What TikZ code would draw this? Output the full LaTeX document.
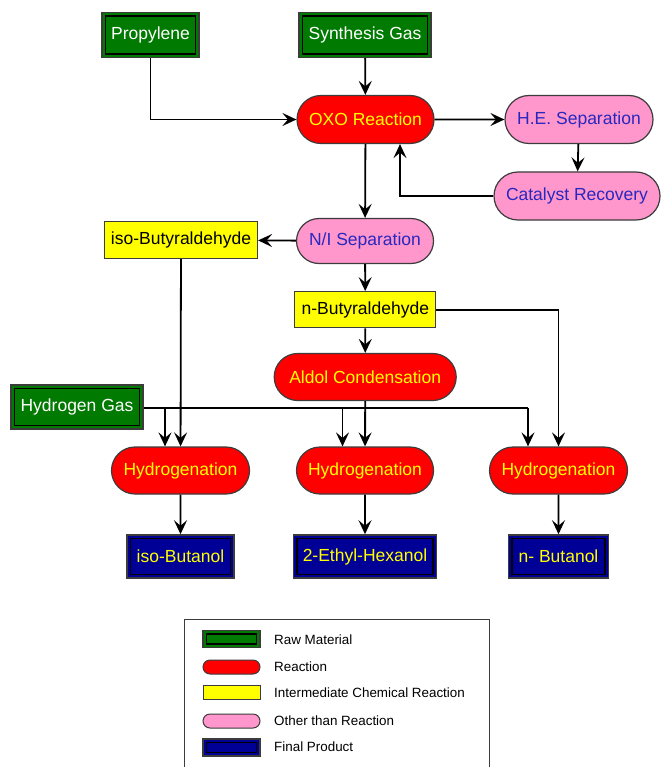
\documentclass[tikz,border=0pt]{standalone}
\usepackage{fontspec}
\setmainfont{Liberation Sans}
\usetikzlibrary{shapes.misc,arrows.meta}

\definecolor{rawgreen}{RGB}{0,122,0}
\definecolor{prodnavy}{RGB}{0,0,150}
\definecolor{rxred}{RGB}{255,0,0}
\definecolor{txtyellow}{RGB}{255,255,0}
\definecolor{sepink}{RGB}{255,150,204}
\definecolor{sepblue}{RGB}{40,40,190}
\definecolor{midyellow}{RGB}{255,255,0}
\definecolor{edgegray}{RGB}{60,60,60}

\tikzset{
  boxfont/.style={font=\fontsize{17.5}{20}\selectfont},
  keyfont/.style={font=\fontsize{13.4}{16}\selectfont},
  % rectangle with an inner black frame
  framed/.style={rectangle, draw=edgegray, line width=1.5pt, inner sep=0pt,
    path picture={\draw[black,line width=1.4pt]
      ([shift={(3.6pt,-3.6pt)}]path picture bounding box.north west) rectangle
      ([shift={(-3.6pt,3.6pt)}]path picture bounding box.south east);}},
  rawbox/.style={framed, fill=rawgreen, text=white, boxfont},
  prodbox/.style={framed, fill=prodnavy, text=txtyellow, boxfont},
  rxpill/.style={rounded rectangle, draw=edgegray, line width=1.2pt, fill=rxred,
    text=txtyellow, inner sep=0pt, boxfont},
  seppill/.style={rounded rectangle, draw=edgegray, line width=1.2pt, fill=sepink,
    text=sepblue, inner sep=0pt, boxfont},
  midbox/.style={rectangle, draw=edgegray, line width=1.2pt, fill=midyellow,
    text=black, inner sep=0pt, boxfont},
  arr/.style={draw=black, line width=1.8pt,
    -{Stealth[length=14pt,width=13pt,inset=5.5pt]}},
  flow/.style={draw=black, line width=1.8pt},
  keylabel/.style={anchor=west, text=black, inner sep=0pt, keyfont},
}

\begin{document}
\begin{tikzpicture}[x=1pt,y=-1pt]
\useasboundingbox (0,0) rectangle (661,767);
\fill[white] (0,0) rectangle (661,767);

% process blocks
\node[rawbox, minimum width=97pt, minimum height=45pt] (prop) at (150.5,35) {Propylene};
\node[rawbox, minimum width=132pt, minimum height=45pt] (syn) at (365,35) {Synthesis Gas};
\node[rxpill, minimum width=137pt, minimum height=48pt] (oxo) at (365.5,119.5) {OXO Reaction};
\node[seppill, minimum width=148pt, minimum height=48pt] (he) at (579,119.5) {H.E. Separation};
\node[seppill, minimum width=166pt, minimum height=48pt] (cat) at (577,196) {Catalyst Recovery};
\node[seppill, minimum width=137pt, minimum height=45pt] (ni) at (365,241) {N/I Separation};
\node[midbox, minimum width=153pt, minimum height=37pt] (iso) at (181,240) {iso-Butyraldehyde};
\node[midbox, minimum width=141pt, minimum height=36pt] (nb) at (365.3,309.7) {n-Butyraldehyde};
\node[rxpill, minimum width=182pt, minimum height=47pt] (aldol) at (365.2,377) {Aldol Condensation};
\node[rawbox, minimum width=132pt, minimum height=44pt] (hg) at (77,407) {Hydrogen Gas};
\node[rxpill, minimum width=138pt, minimum height=47pt] (h1) at (180.5,470.5) {Hydrogenation};
\node[rxpill, minimum width=137pt, minimum height=47pt] (h2) at (365,470.5) {Hydrogenation};
\node[rxpill, minimum width=138pt, minimum height=47pt] (h3) at (558.5,470.5) {Hydrogenation};
\node[prodbox, minimum width=107pt, minimum height=43pt] (ib) at (180.5,556.5) {iso-Butanol};
\node[prodbox, minimum width=143pt, minimum height=43pt] (eh) at (365,556.5) {2-Ethyl-Hexanol};
\node[prodbox, minimum width=100pt, minimum height=43pt] (nbut) at (558.5,556.5) {n- Butanol};

% connectors
\draw[arr] (prop.south) |- (oxo.west);
\draw[arr] (syn) -- (oxo);
\draw[arr] (oxo) -- (he);
\draw[arr] (he) -- (cat);
\draw[arr] (cat.west) -| ([xshift=34.5pt]oxo.south);
\draw[arr] (oxo) -- (ni);
\draw[arr] (ni) -- (iso);
\draw[arr] (ni) -- (nb);
\draw[arr] (nb) -- (aldol);
\draw[arr] (nb.east) -| (h3.north);
\draw[arr] (iso) -- (h1);
\draw[arr] (aldol) -- (h2);
\draw[arr] (h1) -- (ib);
\draw[arr] (h2) -- (eh);
\draw[arr] (h3) -- (nbut);

% hydrogen supply header and its three branches
\coordinate (tap1) at (165,408);
\coordinate (tap2) at (342.5,408);
\coordinate (tap3) at (528,408);
\draw[flow] (hg.east |- tap1) -- (tap3);
\draw[arr] (tap1) -- (tap1 |- h1.north);
\draw[arr] (tap2) -- (tap2 |- h2.north);
\draw[arr] (tap3) -- (tap3 |- h3.north);

% legend
\draw[edgegray, line width=1pt] (184,619) rectangle (489,780);
\node[framed, fill=rawgreen, minimum width=57pt, minimum height=17pt] (k1) at (231.5,639) {};
\node[rounded rectangle, draw=edgegray, line width=1pt, fill=rxred, minimum width=57pt, minimum height=14pt, inner sep=0pt] (k2) at (231.5,667) {};
\node[rectangle, draw=edgegray, line width=1pt, fill=midyellow, minimum width=57pt, minimum height=14pt, inner sep=0pt] (k3) at (231.5,692) {};
\node[rounded rectangle, draw=edgegray, line width=1pt, fill=sepink, minimum width=57pt, minimum height=14pt, inner sep=0pt] (k4) at (231.5,721) {};
\node[framed, fill=prodnavy, minimum width=57pt, minimum height=17pt] (k5) at (231.5,747.5) {};
\node[keylabel] (l1) at (274,640) {Raw Material};
\node[keylabel] (l2) at (274,667) {Reaction};
\node[keylabel] (l3) at (274,693) {Intermediate Chemical Reaction};
\node[keylabel] (l4) at (274,720.5) {Other than Reaction};
\node[keylabel] (l5) at (274,747) {Final Product};
\end{tikzpicture}
\end{document}
